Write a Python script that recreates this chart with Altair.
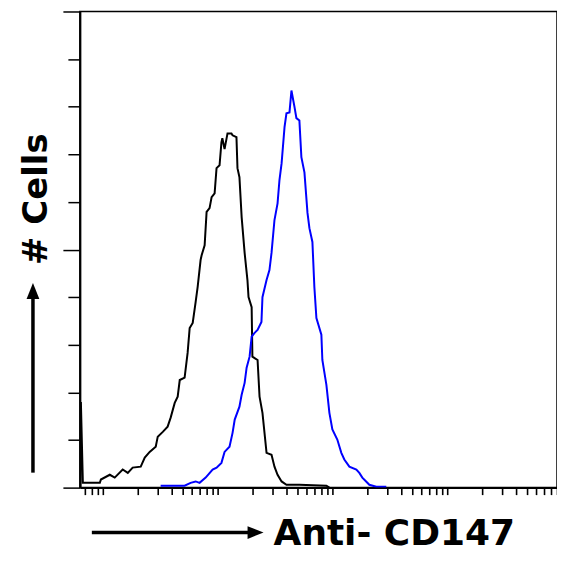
import altair as alt
import pandas as pd

# Isotype control (black) histogram outline: fluorescence intensity, cell count
black_x = [6.38, 6.44, 6.70, 9.42, 9.62, 11.5, 12.7, 14.9, 16.5, 18.2, 21.4, 23.2, 25.6, 28.9,
           30.1, 33.3, 36.7, 39.0, 42.3, 44.9, 46.8, 51.6, 54.8, 57.1, 60.7, 64.4, 67.0,
           71.1, 72.6, 77.1, 80.2, 85.1, 88.7, 94.2, 97.9, 104, 108, 110, 115, 122, 132,
           135, 146, 149, 155, 162, 172, 182, 186, 198, 201, 223, 232, 246, 267, 295, 313,
           333, 361, 398, 516, 887, 942]
black_y = [0, 18.0, 1.0, 1.0, 1.7, 2.7, 2.1, 3.8, 3.1, 4.2, 4.4, 6.3, 7.5, 8.6,
           10.7, 11.7, 12.8, 14.7, 17.8, 19.1, 22.6, 23.1, 28.3, 33.5, 34.6, 39.0, 42.1,
           47.8, 48.8, 50.9, 57.9, 58.7, 61.0, 61.8, 67.1, 67.7, 72.5, 73.4, 71.1, 74.4, 74.4,
           74.0, 73.6, 67.1, 65.2, 56.8, 49.3, 43.6, 40.0, 37.9, 27.5, 26.8, 19.1, 15.7, 7.3, 6.9, 4.4,
           2.7, 1.3, 0.6, 0.6, 0.4, 0]

# Anti-CD147 (blue) histogram outline
blue_x = [31.9, 44.9, 51.6, 58.2, 64.4, 69.7, 78.7, 90.5, 98.0, 108, 115, 127, 135, 141,
          155, 162, 172, 179, 190, 198, 210, 223, 241, 246, 267, 283, 295, 313, 333, 346,
          361, 383, 398, 423, 440, 468, 486, 516, 537, 571, 607, 631, 670, 697, 726, 802,
          818, 887, 942, 1000, 1104, 1197, 1271, 1406, 1618, 1718, 1824, 2099, 2415, 2951]
blue_y = [0.4, 0.4, 0.4, 1.0, 1.3, 1.0, 2.1, 3.8, 4.2, 5.2, 7.5, 8.6, 11.5, 14.3,
          17.0, 19.5, 22.0, 25.2, 27.5, 31.7, 32.5, 33.1, 34.8, 40.0, 43.6, 45.7, 49.3, 56.2, 59.7, 64.6,
          68.1, 75.7, 78.6, 78.8, 83.4, 79.9, 77.6, 77.1, 69.4, 66.2, 57.7, 54.5, 51.6, 42.1, 35.6, 32.1,
          26.8, 21.6, 15.7, 12.2, 10.1, 7.3, 5.9, 4.4, 3.8, 3.1, 2.1, 0.6, 0.2, 0.2]

series_names = ["Isotype", "Anti-CD147"]
series_colors = ["black", "blue"]

x_ticks = [7, 8, 9] + [m * 10 ** d for d in range(1, 5) for m in range(1, 10)]
y_ticks = [0, 10, 20, 30, 40, 50, 60, 70, 80, 90, 100]

x_title = "Anti- CD147"
y_title = "# Cells"

rows = []
for i, (xv, yv) in enumerate(zip(black_x, black_y)):
    rows.append({"series": series_names[0], "intensity": xv, "count": yv, "idx": i})
for i, (xv, yv) in enumerate(zip(blue_x, blue_y)):
    rows.append({"series": series_names[1], "intensity": xv, "count": yv, "idx": i})
df = pd.DataFrame(rows)

lines = alt.Chart(df).mark_line(strokeWidth=2, clip=True).encode(
    x=alt.X("intensity:Q",
            scale=alt.Scale(type="log", domain=[6.31, 90600], nice=False),
            axis=alt.Axis(values=x_ticks, labels=False, tickSize=7, tickWidth=1.6,
                          tickColor="black", domainColor="black", domainWidth=2,
                          grid=False, title=None)),
    y=alt.Y("count:Q",
            scale=alt.Scale(domain=[0, 100], nice=False),
            axis=alt.Axis(values=y_ticks, labels=False,
                          tickSize={"condition": {"test": "datum.value % 50 === 0", "value": 17},
                                    "value": 12},
                          tickWidth=1.5, tickColor="black", domainColor="black",
                          domainWidth=2, grid=False, title=None)),
    color=alt.Color("series:N", scale=alt.Scale(domain=series_names, range=series_colors),
                    legend=None),
    order="idx:Q",
)

one = pd.DataFrame({"label": [x_title]})
one_y = pd.DataFrame({"label": [y_title]})
dummy = pd.DataFrame({"a": [0]})

x_text = alt.Chart(one).mark_text(font="DejaVu Sans", fontSize=36, fontWeight="bold",
                                  align="center", baseline="alphabetic", color="black").encode(
    text="label:N", x=alt.value(315), y=alt.value(534))

y_text = alt.Chart(one_y).mark_text(font="DejaVu Sans", fontSize=34, fontWeight="bold",
                                    align="center", baseline="alphabetic", angle=270,
                                    color="black").encode(
    text="label:N", x=alt.value(-33), y=alt.value(188))

h_line = alt.Chart(dummy).mark_rule(strokeWidth=3.5, color="black").encode(
    x=alt.value(12), x2=alt.value(172), y=alt.value(522))
h_head = alt.Chart(dummy).mark_point(shape="M0,0L-2,-0.8L-2,0.8Z", size=256, filled=True,
                                     color="black", opacity=1).encode(
    x=alt.value(184), y=alt.value(522))

v_line = alt.Chart(dummy).mark_rule(strokeWidth=3.5, color="black").encode(
    x=alt.value(-47), y=alt.value(462), y2=alt.value(286))
v_head = alt.Chart(dummy).mark_point(shape="M0,0L-0.8,2L0.8,2Z", size=256, filled=True,
                                     color="black", opacity=1).encode(
    x=alt.value(-47), y=alt.value(272))

chart = alt.layer(lines, x_text, y_text, h_line, h_head, v_line, v_head).properties(
    width=478, height=477,
    autosize=alt.AutoSizeParams(type="none"),
    padding={"left": 72, "top": 3, "right": 0, "bottom": 64},
    background="white",
).configure_view(stroke="black", strokeWidth=1.5)

chart.save("out.html", embed_options={"renderer": "svg", "actions": False})
